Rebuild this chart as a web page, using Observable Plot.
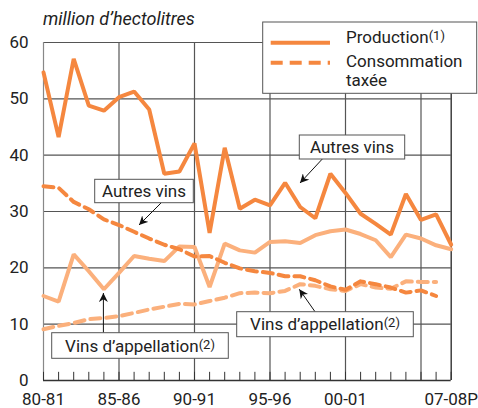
<!DOCTYPE html>
<html>
<head>
<meta charset="utf-8">
<script src="https://cdn.jsdelivr.net/npm/d3@7"></script>
<script src="https://cdn.jsdelivr.net/npm/@observablehq/plot@0.6"></script>
<style>
  html, body { margin: 0; padding: 0; background: #fff; }
  #chart svg { display: block; }
</style>
</head>
<body>
<div id="chart"></div>
<script>
// Crop seasons (start year): 1980-81 ... 2007-08P
const seasons = [1980,1981,1982,1983,1984,1985,1986,1987,1988,1989,1990,1991,1992,1993,
                 1994,1995,1996,1997,1998,1999,2000,2001,2002,2003,2004,2005,2006,2007];
// Production (solid lines), million hl
const prodAutres = [54.7,43.2,57.1,48.8,47.9,50.3,51.3,48.1,36.7,37.1,42.1,26.2,41.3,30.5,
                    32.1,31.1,35.1,30.8,28.8,36.7,33.3,29.6,27.8,25.9,33.1,28.5,29.5,24.1];
const prodAppellation = [15.0,14.0,22.4,19.4,16.2,19.1,22.1,21.6,21.2,23.8,23.7,16.6,24.3,23.1,
                         22.7,24.6,24.7,24.4,25.8,26.5,26.8,26.0,24.9,21.9,25.9,25.2,24.0,23.3];
// Consommation taxée (dashed lines), up to 2006-07
const consAutres = [34.5,34.2,31.7,30.4,28.6,27.6,26.4,25.2,24.1,23.3,22.0,22.1,20.9,19.9,
                    19.4,19.1,18.5,18.5,17.8,16.7,16.1,17.6,17.1,16.5,15.6,16.0,15.0];
const consAppellation = [9.1,9.7,10.2,10.9,11.1,11.4,12.0,12.6,13.1,13.6,13.5,14.1,14.7,15.5,
                         15.6,15.5,15.9,17.1,16.8,16.2,15.9,17.1,16.5,16.3,17.6,17.5,17.5];
// Axis ticks
const yTicks = [0,10,20,30,40,50,60];
const xLabelYears = [1980,1985,1990,1995,2000,2007];
const xLabels = ["80-81","85-86","90-91","95-96","00-01","07-08P"];
const gridYears = [1985,1990,1995,2000,2005];

const dark = "#F5873F";
const light = "#FBB07C";
const font = "Roboto, 'Liberation Sans', sans-serif";

const toRows = (vals) => vals.map((v, i) => ({x: seasons[i], y: v}));
const labelOf = new Map(xLabelYears.map((y, i) => [y, xLabels[i]]));

const chart = Plot.plot({
  width: 478,
  height: 408,
  marginTop: 42,
  marginLeft: 43,
  marginRight: 27.3,
  marginBottom: 28,
  style: {fontFamily: font, fontSize: "17px", color: "#222", background: "#fff", overflow: "visible"},
  x: {domain: [1980, 2007], axis: null},
  y: {domain: [0, 60], axis: null},
  marks: [
    Plot.ruleY(yTicks.filter(d => d > 0), {stroke: "#555", strokeWidth: 1.2}),
    Plot.ruleX(gridYears, {y1: 0, y2: 60, stroke: "#555", strokeWidth: 1.2}),
    Plot.ruleX([1980], {y1: 0, y2: 60, stroke: "#888", strokeWidth: 1.2}),
    Plot.ruleX([2007], {y1: 0, y2: 60, stroke: "#333", strokeWidth: 1.4}),
    Plot.ruleX(seasons, {y1: 0, y2: 1.45, stroke: "#333", strokeWidth: 1}),
    Plot.ruleY([0], {stroke: "#333", strokeWidth: 1.6}),
    Plot.axisY({ticks: yTicks, tickSize: 0, tickPadding: 15, fontSize: 17, label: null}),
    Plot.axisX({ticks: xLabelYears, tickSize: 0, tickPadding: 12, fontSize: 17, label: null,
                tickFormat: d => labelOf.get(d)}),
    Plot.line(toRows(consAppellation), {x: "x", y: "y", stroke: light, strokeWidth: 4, strokeDasharray: "10,6"}),
    Plot.line(toRows(prodAppellation), {x: "x", y: "y", stroke: light, strokeWidth: 4, strokeLinejoin: "miter"}),
    Plot.line(toRows(consAutres), {x: "x", y: "y", stroke: dark, strokeWidth: 4, strokeDasharray: "10,6"}),
    Plot.line(toRows(prodAutres), {x: "x", y: "y", stroke: dark, strokeWidth: 4, strokeLinejoin: "miter"})
  ]
});

document.getElementById("chart").appendChild(chart);
const svg = d3.select(chart);

// Title
svg.append("text")
  .attr("x", 43).attr("y", 25).attr("text-anchor", "start")
  .attr("font-family", font).attr("font-size", 18).attr("font-style", "italic")
  .attr("fill", "#222")
  .text("million d\u2019hectolitres");

// Arrow marker
const defs = svg.append("defs");
defs.append("marker")
  .attr("id", "arr").attr("viewBox", "0 0 10 10").attr("refX", 10).attr("refY", 5)
  .attr("markerWidth", 9).attr("markerHeight", 9).attr("markerUnits", "userSpaceOnUse")
  .attr("orient", "auto")
  .append("path").attr("d", "M0,0 L10,5 L0,10 L3,5 Z").attr("fill", "#111");

function arrow(x1, y1, x2, y2) {
  svg.append("line").attr("x1", x1).attr("y1", y1).attr("x2", x2).attr("y2", y2)
    .attr("stroke", "#111").attr("stroke-width", 1).attr("marker-end", "url(#arr)");
}
function box(x, y, w, h, parts) {
  const g = svg.append("g");
  g.append("rect").attr("x", x).attr("y", y).attr("width", w).attr("height", h)
    .attr("fill", "#fff").attr("stroke", "#555").attr("stroke-width", 1);
  const t = g.append("text").attr("x", x + w / 2).attr("y", y + h / 2 + 6)
    .attr("text-anchor", "middle").attr("font-family", font).attr("font-size", 17).attr("fill", "#222");
  parts.forEach(p => {
    const ts = t.append("tspan").text(p.t);
    if (p.sup) ts.attr("font-size", 13).attr("dy", -3);
  });
}

// Annotations
arrow(322.3, 159, 300, 183);
box(299.3, 135, 105.4, 24, [{t: "Autres vins"}]);
arrow(161.3, 202.7, 139, 225);
box(94.7, 179.3, 98.6, 23.4, [{t: "Autres vins"}]);
arrow(103.4, 332.7, 103.4, 293);
box(51.7, 332.7, 176.6, 25.6, [{t: "Vins d\u2019appellation"}, {t: "(2)", sup: true}]);
arrow(315, 311.7, 299.3, 289.3);
box(236.7, 311.7, 176.6, 25, [{t: "Vins d\u2019appellation"}, {t: "(2)", sup: true}]);

// Legend
const lg = svg.append("g").attr("text-anchor", "start");
lg.append("rect").attr("x", 262.7).attr("y", 22).attr("width", 214).attr("height", 71.3)
  .attr("fill", "#fff").attr("stroke", "#555").attr("stroke-width", 1);
lg.append("line").attr("x1", 270.7).attr("x2", 330).attr("y1", 42.7).attr("y2", 42.7)
  .attr("stroke", dark).attr("stroke-width", 4);
lg.append("line").attr("x1", 270.7).attr("x2", 330).attr("y1", 62.7).attr("y2", 62.7)
  .attr("stroke", dark).attr("stroke-width", 4).attr("stroke-dasharray", "12,7");
const lt1 = lg.append("text").attr("x", 346).attr("y", 43).attr("text-anchor", "start")
  .attr("font-family", font).attr("font-size", 17).attr("fill", "#222");
lt1.append("tspan").text("Production");
lt1.append("tspan").attr("font-size", 13).attr("dy", -3).text("(1)");
lg.append("text").attr("x", 346).attr("y", 67).attr("text-anchor", "start").attr("font-family", font)
  .attr("font-size", 17).attr("fill", "#222").text("Consommation");
lg.append("text").attr("x", 346).attr("y", 86).attr("text-anchor", "start").attr("font-family", font)
  .attr("font-size", 17).attr("fill", "#222").text("taxée");
</script>
</body>
</html>
